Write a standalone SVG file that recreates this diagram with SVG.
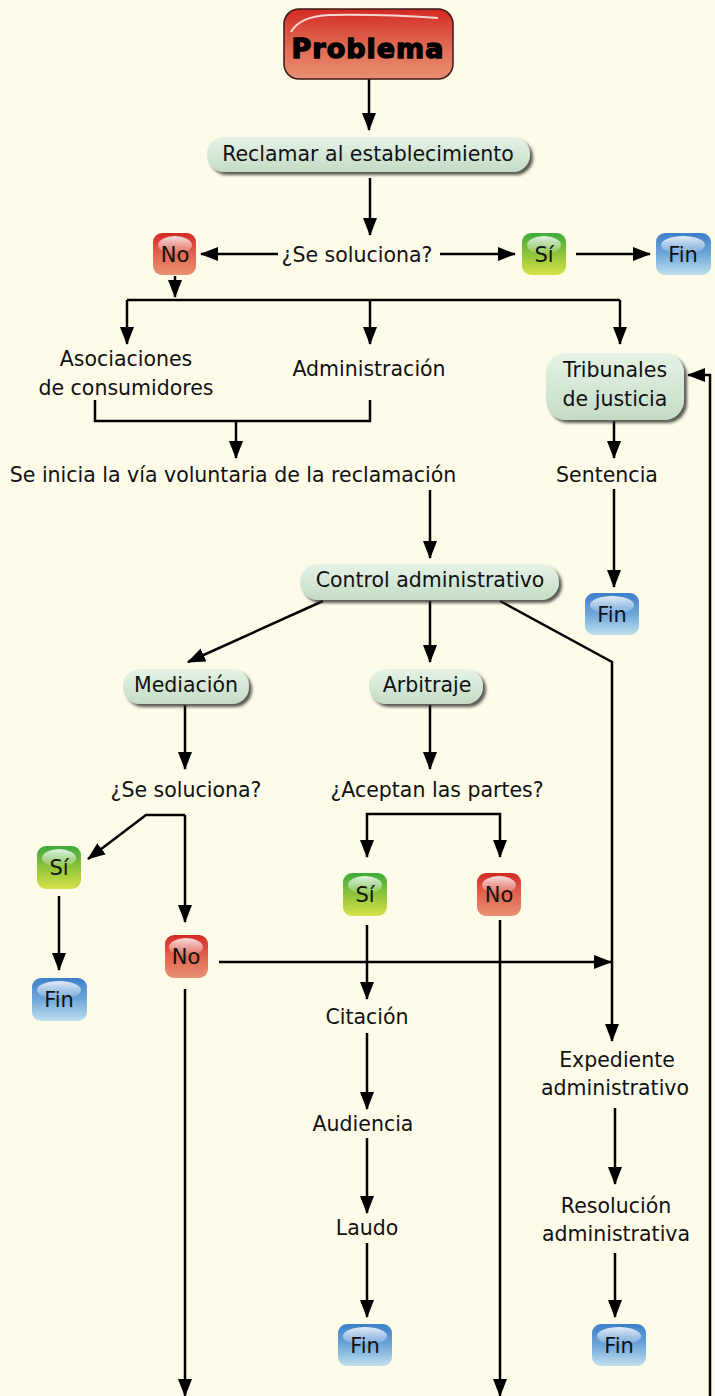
<svg xmlns="http://www.w3.org/2000/svg" width="715" height="1396" viewBox="0 0 715 1396">
<defs>
<style>
.t{font-family:"DejaVu Sans","Liberation Sans",sans-serif;font-size:20.5px;fill:#111;text-anchor:middle}
.b{font-family:"DejaVu Sans","Liberation Sans",sans-serif;font-size:21px;fill:#111;text-anchor:middle}
.ln{fill:none;stroke:#000;stroke-width:2.5}
.ar{marker-end:url(#ah)}
.pill{fill:url(#gg);filter:url(#sh)}
.gl{fill:url(#gloss)}
</style>
<marker id="ah" markerUnits="userSpaceOnUse" markerWidth="18" markerHeight="16" refX="17" refY="8" orient="auto"><path d="M0,1 L18,8 L0,15 z" fill="#000"/></marker>
<linearGradient id="gr" x1="0" y1="0" x2="0" y2="1"><stop offset="0" stop-color="#D22A24"/><stop offset="0.5" stop-color="#E06650"/><stop offset="1" stop-color="#EA8F72"/></linearGradient>
<linearGradient id="gv" x1="0" y1="0" x2="0" y2="1"><stop offset="0" stop-color="#3CAA3C"/><stop offset="0.5" stop-color="#90C43A"/><stop offset="1" stop-color="#D6E24A"/></linearGradient>
<linearGradient id="gb" x1="0" y1="0" x2="0" y2="1"><stop offset="0" stop-color="#3C7FCB"/><stop offset="0.5" stop-color="#6FA6D8"/><stop offset="1" stop-color="#BFE0EE"/></linearGradient>
<linearGradient id="gg" x1="0" y1="0" x2="0" y2="1"><stop offset="0" stop-color="#E6F3E6"/><stop offset="1" stop-color="#C4DCC6"/></linearGradient>
<linearGradient id="gloss" x1="0" y1="0" x2="0" y2="1"><stop offset="0" stop-color="#fff" stop-opacity="0.85"/><stop offset="1" stop-color="#fff" stop-opacity="0.1"/></linearGradient>
<filter id="sh" x="-10%" y="-20%" width="130%" height="160%"><feDropShadow dx="3" dy="3" stdDeviation="1.5" flood-color="#333" flood-opacity="0.8"/></filter>
</defs>
<rect width="715" height="1396" fill="#FEFBE9"/>

<g id="connectors">
<path class="ln ar" d="M369,79 V130"/>
<path class="ln ar" d="M370,178 V235"/>
<path class="ln ar" d="M278,254 H201"/>
<path class="ln ar" d="M440,254 H515"/>
<path class="ln ar" d="M576,254 H650"/>
<path class="ln ar" d="M175,276 V297"/>
<path class="ln" d="M127,300 H620"/>
<path class="ln ar" d="M127,300 V344"/>
<path class="ln ar" d="M370,300 V344"/>
<path class="ln ar" d="M620,300 V344"/>
<path class="ln" d="M95,400 V421 H370 V400"/>
<path class="ln ar" d="M236,421 V458"/>
<path class="ln ar" d="M710,1396 V375 H688"/>
<path class="ln ar" d="M614,421 V458"/>
<path class="ln ar" d="M614,489 V587"/>
<path class="ln ar" d="M430,490 V558"/>
<path class="ln ar" d="M323,601 L188,662"/>
<path class="ln ar" d="M430,601 V662"/>
<path class="ln ar" d="M500,601 L612,662 V1041"/>
<path class="ln ar" d="M185,705 V769"/>
<path class="ln ar" d="M430,705 V769"/>
<path class="ln ar" d="M185,815 H146 L88,859"/>
<path class="ln ar" d="M185,815 V922"/>
<path class="ln ar" d="M59,896 V970"/>
<path class="ln ar" d="M219,962 H611"/>
<path class="ln ar" d="M185,989 V1396"/>
<path class="ln ar" d="M434,814 H500 V857"/>
<path class="ln ar" d="M434,814 H367 V857"/>
<path class="ln ar" d="M367,925 V999"/>
<path class="ln ar" d="M500,920 V1396"/>
<path class="ln ar" d="M367,1033 V1109"/>
<path class="ln ar" d="M367,1138 V1213"/>
<path class="ln ar" d="M367,1243 V1317"/>
<path class="ln ar" d="M615,1108 V1184"/>
<path class="ln ar" d="M615,1253 V1317"/>
</g>

<g id="problema">
<rect x="284" y="9" width="169" height="70" rx="15" fill="url(#gr)" stroke="#3a1a14" stroke-width="1.5"/>
<path d="M291,32 Q300,16 330,15 Q380,14 438,18" fill="none" stroke="#fff" stroke-width="2" opacity="0.8"/>
<text x="368" y="58" font-family="'DejaVu Sans',Lato,sans-serif" font-weight="900" font-size="27" text-anchor="middle" fill="#000" stroke="#000" stroke-width="1.4" letter-spacing="1">Problema</text>
</g>

<g id="reclamar"><rect class="pill" x="207" y="137" width="323" height="35" rx="17"/><text class="t" x="368" y="161">Reclamar al establecimiento</text></g>
<g id="sesoluciona1"><text class="t" x="357" y="262">¿Se soluciona?</text></g>
<g id="no1"><rect x="153" y="233" width="43" height="42" rx="9" fill="url(#gr)"/><ellipse class="gl" cx="175" cy="245" rx="17" ry="9"/><text class="b" x="175" y="262">No</text></g>
<g id="si1"><rect x="522" y="233" width="44" height="42" rx="9" fill="url(#gv)"/><ellipse class="gl" cx="544" cy="245" rx="17" ry="9"/><text class="b" x="544" y="262">Sí</text></g>
<g id="fin1"><rect x="656" y="233" width="55" height="42" rx="9" fill="url(#gb)"/><ellipse class="gl" cx="683" cy="245" rx="22" ry="9"/><text class="b" x="683" y="262">Fin</text></g>

<g id="asociaciones"><text class="t" x="126" y="366">Asociaciones</text><text class="t" x="126" y="395">de consumidores</text></g>
<g id="administracion"><text class="t" x="369" y="376">Administración</text></g>
<g id="tribunales"><rect class="pill" x="546" y="353" width="138" height="67" rx="20"/><text class="t" x="615" y="377">Tribunales</text><text class="t" x="615" y="406">de justicia</text></g>
<g id="seinicia"><text class="t" x="233" y="482">Se inicia la vía voluntaria de la reclamación</text></g>
<g id="sentencia"><text class="t" x="607" y="482">Sentencia</text></g>
<g id="fin2"><rect x="585" y="593" width="54" height="42" rx="9" fill="url(#gb)"/><ellipse class="gl" cx="612" cy="605" rx="22" ry="9"/><text class="b" x="612" y="622">Fin</text></g>

<g id="control"><rect class="pill" x="300" y="564" width="259" height="36" rx="18"/><text class="t" x="430" y="587">Control administrativo</text></g>
<g id="mediacion"><rect class="pill" x="123" y="669" width="126" height="35" rx="17"/><text class="t" x="186" y="692">Mediación</text></g>
<g id="arbitraje"><rect class="pill" x="369" y="669" width="114" height="35" rx="17"/><text class="t" x="427" y="692">Arbitraje</text></g>

<g id="sesoluciona2"><text class="t" x="186" y="797">¿Se soluciona?</text></g>
<g id="aceptan"><text class="t" x="437" y="797">¿Aceptan las partes?</text></g>

<g id="si2"><rect x="37" y="846" width="44" height="43" rx="9" fill="url(#gv)"/><ellipse class="gl" cx="59" cy="858" rx="17" ry="9"/><text class="b" x="59" y="875">Sí</text></g>
<g id="fin3"><rect x="32" y="978" width="55" height="43" rx="9" fill="url(#gb)"/><ellipse class="gl" cx="59" cy="990" rx="22" ry="9"/><text class="b" x="59" y="1007">Fin</text></g>
<g id="no2"><rect x="165" y="935" width="43" height="43" rx="9" fill="url(#gr)"/><ellipse class="gl" cx="186" cy="947" rx="17" ry="9"/><text class="b" x="186" y="964">No</text></g>
<g id="si3"><rect x="343" y="873" width="44" height="43" rx="9" fill="url(#gv)"/><ellipse class="gl" cx="365" cy="885" rx="17" ry="9"/><text class="b" x="365" y="902">Sí</text></g>
<g id="no3"><rect x="477" y="873" width="44" height="43" rx="9" fill="url(#gr)"/><ellipse class="gl" cx="499" cy="885" rx="17" ry="9"/><text class="b" x="499" y="902">No</text></g>

<g id="citacion"><text class="t" x="367" y="1024">Citación</text></g>
<g id="audiencia"><text class="t" x="363" y="1131">Audiencia</text></g>
<g id="laudo"><text class="t" x="367" y="1235">Laudo</text></g>
<g id="fin4"><rect x="338" y="1324" width="54" height="42" rx="9" fill="url(#gb)"/><ellipse class="gl" cx="365" cy="1336" rx="22" ry="9"/><text class="b" x="365" y="1353">Fin</text></g>

<g id="expediente"><text class="t" x="617" y="1067">Expediente</text><text class="t" x="615" y="1095">administrativo</text></g>
<g id="resolucion"><text class="t" x="616" y="1213">Resolución</text><text class="t" x="616" y="1241">administrativa</text></g>
<g id="fin5"><rect x="592" y="1324" width="54" height="42" rx="9" fill="url(#gb)"/><ellipse class="gl" cx="619" cy="1336" rx="22" ry="9"/><text class="b" x="619" y="1353">Fin</text></g>
</svg>
